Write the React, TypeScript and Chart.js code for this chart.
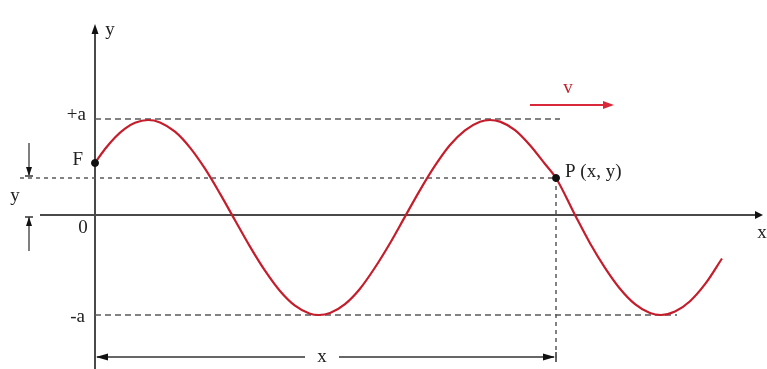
import React, { useEffect, useRef } from "react";
import { Chart, registerables } from "chart.js";

Chart.register(...registerables);

// Wave (x: distance right of the y-axis, y: height above the x-axis)
const waveX = [0, 10, 20, 30, 40, 53, 65, 80, 95, 110, 125, 140, 155, 170, 185, 200, 215, 224, 235, 250, 265, 280, 295, 310, 325, 340, 355, 370, 385, 395, 405, 420, 435, 450, 461, 480, 495, 510, 525, 540, 555, 566, 580, 595, 610, 627];
const waveY = [52, 66, 77.6, 86.4, 92.2, 95, 92.6, 83.3, 67.4, 46.3, 21.4, -5.2, -31.6, -55.7, -76, -90.7, -98.7, -100, -98, -89.1, -73.7, -52.5, -28.2, -1.6, 24.9, 49.3, 70, 84.7, 93.3, 95, 93.4, 84.9, 69.8, 51, 37, 0, -28.2, -52.8, -73.7, -89.1, -98, -100, -96.6, -86.2, -69.2, -43.5];

const aPlus = 96;
const aMinus = -100;
const pointF = { x: 0, y: 52 };
const pointP = { x: 461, y: 37 };

const labelTexts = ["y", "+a", "F", "y", "0", "-a", "x", "x", "P (x, y)", "v"];
const labelX = [15, -9, -12, -80, -12, -10, 227, 667, 470, 473];
const labelY = [185, 100, 55, 19, -13, -102, -142, -18, 43, 127];
const labelAlign = ["center", "right", "right", "center", "center", "right", "center", "center", "left", "center"];
const labelColor = ["#222", "#222", "#222", "#222", "#222", "#222", "#222", "#222", "#222", "#c8202c"];

const X_MIN = -95, X_MAX = 672, Y_MIN = -154, Y_MAX = 215;

function arrowHead(ctx: CanvasRenderingContext2D, x: number, y: number, dir: "up" | "down" | "left" | "right", len: number, half: number, color: string) {
  ctx.save();
  ctx.fillStyle = color;
  ctx.beginPath();
  if (dir === "up") { ctx.moveTo(x, y); ctx.lineTo(x - half, y + len); ctx.lineTo(x + half, y + len); }
  if (dir === "down") { ctx.moveTo(x, y); ctx.lineTo(x - half, y - len); ctx.lineTo(x + half, y - len); }
  if (dir === "left") { ctx.moveTo(x, y); ctx.lineTo(x + len, y - half); ctx.lineTo(x + len, y + half); }
  if (dir === "right") { ctx.moveTo(x, y); ctx.lineTo(x - len, y - half); ctx.lineTo(x - len, y + half); }
  ctx.closePath();
  ctx.fill();
  ctx.restore();
}

function seg(ctx: CanvasRenderingContext2D, x1: number, y1: number, x2: number, y2: number, color: string, w: number) {
  ctx.save();
  ctx.strokeStyle = color;
  ctx.lineWidth = w;
  ctx.beginPath();
  ctx.moveTo(x1, y1);
  ctx.lineTo(x2, y2);
  ctx.stroke();
  ctx.restore();
}

const decorPlugin = {
  id: "decor",
  beforeDatasetsDraw(chart: any) {
    const ctx = chart.ctx as CanvasRenderingContext2D;
    const xs = chart.scales.x, ys = chart.scales.y;
    const px = (v: number) => xs.getPixelForValue(v);
    const py = (v: number) => ys.getPixelForValue(v);
    const axisColor = "#4a4a4a";
    // x axis
    seg(ctx, px(-55), py(0), px(662), py(0), axisColor, 2);
    arrowHead(ctx, px(668), py(0), "right", 8, 4, "#111");
    // y axis
    seg(ctx, px(0), py(Y_MIN), px(0), py(182), axisColor, 2);
    arrowHead(ctx, px(0), py(191), "up", 10, 3.5, "#111");
    // bottom dimension line
    const by = py(-142);
    seg(ctx, px(2), by, px(210), by, "#333", 1.5);
    seg(ctx, px(244), by, px(459), by, "#333", 1.5);
    arrowHead(ctx, px(1), by, "left", 12, 3.5, "#111");
    arrowHead(ctx, px(460), by, "right", 12, 3.5, "#111");
    seg(ctx, px(461), by - 5, px(461), by + 5, "#333", 1.5);
    // small arrows on the left
    const lx = px(-66);
    seg(ctx, lx, py(72), lx, py(40), "#555", 1.5);
    arrowHead(ctx, lx, py(39), "down", 9, 3, "#111");
    seg(ctx, lx - 4, py(39), lx + 4, py(39), "#333", 1.5);
    seg(ctx, lx, py(-36), lx, py(-2), "#555", 1.5);
    arrowHead(ctx, lx, py(-2), "up", 9, 3, "#111");
    seg(ctx, lx - 4, py(-2), lx + 4, py(-2), "#333", 1.5);
    // v arrow
    seg(ctx, px(435), py(110), px(510), py(110), "#d8283a", 2);
    arrowHead(ctx, px(519), py(110), "right", 11, 4, "#d8283a");
  },
  afterDatasetsDraw(chart: any) {
    const ctx = chart.ctx as CanvasRenderingContext2D;
    const xs = chart.scales.x, ys = chart.scales.y;
    ctx.save();
    ctx.font = "19px 'Liberation Serif', 'DejaVu Serif', serif";
    ctx.textBaseline = "middle";
    labelTexts.forEach((t, i) => {
      ctx.fillStyle = labelColor[i];
      ctx.textAlign = labelAlign[i] as CanvasTextAlign;
      ctx.fillText(t, xs.getPixelForValue(labelX[i]), ys.getPixelForValue(labelY[i]));
    });
    ctx.restore();
  },
};

export default function App() {
  const ref = useRef<HTMLCanvasElement | null>(null);
  useEffect(() => {
    if (!ref.current) return;
    const dash = [6, 4];
    const grey = "#5a5a5a";
    const chart = new Chart(ref.current, {
      type: "line",
      data: {
        datasets: [
          {
            label: "wave",
            data: waveX.map((x, i) => ({ x, y: waveY[i] })),
            borderColor: "#c41e2c",
            borderWidth: 2.2,
            pointRadius: 0,
            cubicInterpolationMode: "monotone",
            order: 1,
          },
          {
            label: "+a",
            data: [{ x: 0, y: aPlus }, { x: 465, y: aPlus }],
            borderColor: grey, borderWidth: 1.5, borderDash: dash, pointRadius: 0, order: 3,
          },
          {
            label: "-a",
            data: [{ x: 0, y: aMinus }, { x: 582, y: aMinus }],
            borderColor: grey, borderWidth: 1.5, borderDash: dash, pointRadius: 0, order: 3,
          },
          {
            label: "Py",
            data: [{ x: -75, y: pointP.y }, { x: pointP.x, y: pointP.y }],
            borderColor: grey, borderWidth: 1.5, borderDash: [4, 4], pointRadius: 0, order: 3,
          },
          {
            label: "Px",
            data: [{ x: pointP.x, y: pointP.y }, { x: pointP.x, y: -145 }],
            borderColor: grey, borderWidth: 1.5, borderDash: [4, 4], pointRadius: 0, order: 3,
          },
          {
            label: "points",
            data: [pointF, pointP],
            showLine: false,
            pointRadius: 3.5,
            pointBackgroundColor: "#111",
            pointBorderColor: "#111",
            order: 0,
          },
        ],
      },
      options: {
        animation: false,
        responsive: false,
        maintainAspectRatio: false,
        layout: { padding: 0, autoPadding: false },
        plugins: { legend: { display: false }, tooltip: { enabled: false } },
        events: [],
        scales: {
          x: { type: "linear", min: X_MIN, max: X_MAX, display: false },
          y: { type: "linear", min: Y_MIN, max: Y_MAX, display: false },
        },
      },
      plugins: [decorPlugin],
    });
    return () => chart.destroy();
  }, []);
  return (
    <div style={{ position: "fixed", left: 0, top: 0, width: 767, height: 369, background: "#fff" }}>
      <canvas ref={ref} width={767} height={369} style={{ display: "block" }} />
    </div>
  );
}
